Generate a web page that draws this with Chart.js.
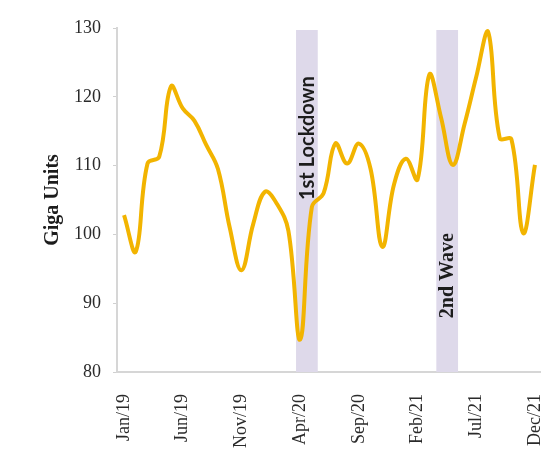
<!DOCTYPE html>
<html lang="en">
<head>
  <meta charset="UTF-8">
  <title>Giga Units</title>
  <script src="https://cdn.jsdelivr.net/npm/chart.js"></script>
  <style>
    html, body {
      margin: 0;
      padding: 0;
      background: #fff;
    }
    .chart-container {
      position: relative;
      width: 543px;
      height: 449px;
    }
  </style>
</head>
<body>
  <div class="chart-container">
    <canvas id="unitsChart"></canvas>
  </div>
  <script>
    // Monthly consumption, Jan 2019 - Dec 2021
    const months = [
      'Jan/19', 'Feb/19', 'Mar/19', 'Apr/19', 'May/19', 'Jun/19',
      'Jul/19', 'Aug/19', 'Sep/19', 'Oct/19', 'Nov/19', 'Dec/19',
      'Jan/20', 'Feb/20', 'Mar/20', 'Apr/20', 'May/20', 'Jun/20',
      'Jul/20', 'Aug/20', 'Sep/20', 'Oct/20', 'Nov/20', 'Dec/20',
      'Jan/21', 'Feb/21', 'Mar/21', 'Apr/21', 'May/21', 'Jun/21',
      'Jul/21', 'Aug/21', 'Sep/21', 'Oct/21', 'Nov/21', 'Dec/21'
    ];
    const units = [
      102.8, 97.5, 110.3, 111.3, 121.5, 118.3,
      116.5, 113.0, 109.5, 101.0, 94.8, 101.5,
      106.2, 104.5, 100.5, 84.7, 104.0, 106.0,
      113.2, 110.3, 113.2, 109.5, 98.2, 107.3,
      111.0, 108.0, 123.2, 117.0, 110.1, 116.0,
      122.9, 129.5, 114.0, 113.8, 100.2, 110.1
    ];
    // every fifth month gets a label
    const tickMonths = [0, 5, 10, 15, 20, 25, 30, 35];

    // shaded periods (month index, fractional)
    const eventNames = ['1st Lockdown', '2nd Wave'];
    const eventStart = [14.65, 26.6];
    const eventEnd = [16.5, 28.45];
    const eventTextAt = [114, 94]; // y value where the caption is centred
    const eventFonts = ['bold 20px Lato', 'bold 20px "Liberation Serif"'];

    const eventBands = {
      id: 'eventBands',
      beforeDatasetsDraw(chart) {
        const { ctx, chartArea, scales: { x, y } } = chart;
        ctx.save();
        eventNames.forEach((name, i) => {
          const x0 = x.getPixelForValue(eventStart[i]);
          const x1 = x.getPixelForValue(eventEnd[i]);
          ctx.fillStyle = 'rgb(222, 217, 234)';
          ctx.fillRect(x0, chartArea.top + 2, x1 - x0, chartArea.bottom - chartArea.top - 2);

          ctx.save();
          ctx.translate((x0 + x1) / 2 + 1, y.getPixelForValue(eventTextAt[i]));
          ctx.rotate(-Math.PI / 2);
          ctx.font = eventFonts[i];
          ctx.fillStyle = '#1c1c1c';
          ctx.textAlign = 'center';
          ctx.textBaseline = 'middle';
          ctx.fillText(name, 0, 0);
          ctx.restore();
        });
        ctx.restore();
      }
    };

    const data = units.map((v, i) => ({ x: i, y: v }));

    new Chart(document.getElementById('unitsChart'), {
      type: 'line',
      data: {
        datasets: [{
          data: data,
          borderColor: 'rgb(242, 180, 0)',
          borderWidth: 4,
          pointRadius: 0,
          tension: 0.4,
          fill: false
        }]
      },
      options: {
        responsive: true,
        maintainAspectRatio: false,
        animation: false,
        layout: { padding: { left: 41, top: 28, right: 3, bottom: 0 } },
        plugins: {
          legend: { display: false },
          tooltip: { enabled: false }
        },
        scales: {
          x: {
            type: 'linear',
            min: -0.6,
            max: 35.43,
            afterBuildTicks: (axis) => {
              axis.ticks = tickMonths.map((v) => ({ value: v }));
            },
            afterFit: (axis) => {
              axis.height = 77;
              axis.paddingLeft = 0;
              axis.paddingRight = 0;
            },
            grid: { display: false },
            border: { color: '#d6d6d6', width: 2 },
            ticks: {
              autoSkip: false,
              minRotation: 90,
              maxRotation: 90,
              padding: 14,
              color: '#2a2a2a',
              font: { family: '"Liberation Serif"', size: 18 },
              callback: (v) => months[v]
            }
          },
          y: {
            min: 80,
            max: 130,
            afterFit: (axis) => {
              axis.width = 76;
              axis.paddingTop = 0;
              axis.paddingBottom = 0;
            },
            grid: {
              drawOnChartArea: false,
              tickLength: 4,
              color: '#d0d0d0'
            },
            border: { color: '#d6d6d6', width: 2 },
            ticks: {
              stepSize: 10,
              padding: 12,
              color: '#2a2a2a',
              font: { family: '"Liberation Serif"', size: 18 }
            },
            title: {
              display: true,
              text: 'Giga Units',
              color: '#1c1c1c',
              padding: 0,
              font: { family: '"Liberation Serif"', size: 20, weight: 'bold' }
            }
          }
        }
      },
      plugins: [eventBands]
    });
  </script>
</body>
</html>
